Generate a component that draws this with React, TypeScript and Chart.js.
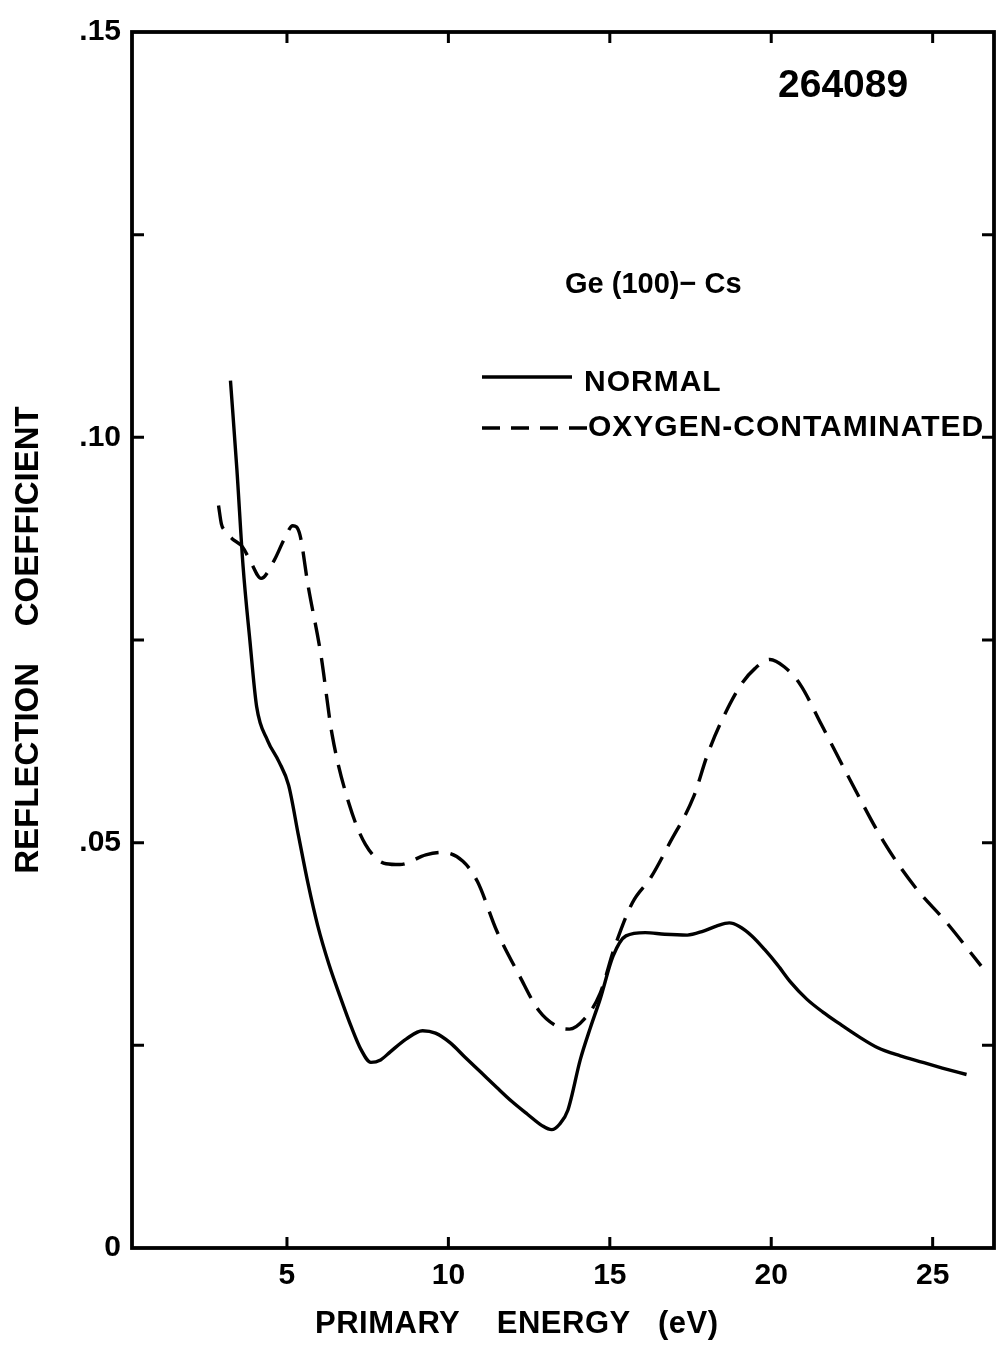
import React, { useEffect, useRef } from "react";
import { Chart, registerables } from "chart.js";

Chart.register(...registerables);

// ---- data ----
const normalX = [3.25, 3.45, 3.64, 3.85, 4.06, 4.4, 4.75, 5.05, 5.36, 5.65, 5.95, 6.3, 6.63, 7.0, 7.29, 7.6, 7.9, 8.2, 8.7, 9.2, 9.6, 10.06, 10.5, 11.0, 11.5, 11.96, 12.45, 12.9, 13.2, 13.45, 13.7, 14.09, 14.4, 14.7, 15.1, 15.5, 16.1, 16.7, 17.4, 17.9, 18.3, 18.7, 19.0, 19.4, 19.8, 20.2, 20.6, 21.1, 21.6, 22.1, 22.7, 23.3, 24.0, 24.6, 25.3, 26.05];
const normalY = [0.107, 0.096, 0.0841, 0.075, 0.0668, 0.0626, 0.06, 0.0571, 0.0508, 0.045, 0.0398, 0.035, 0.0312, 0.0272, 0.0245, 0.0229, 0.0232, 0.0242, 0.0258, 0.0268, 0.0265, 0.0253, 0.0236, 0.0217, 0.0198, 0.0181, 0.0165, 0.0151, 0.0146, 0.0153, 0.017, 0.0233, 0.0272, 0.0307, 0.036, 0.0385, 0.0389, 0.0387, 0.0386, 0.0391, 0.0397, 0.0401, 0.0397, 0.0385, 0.0368, 0.0349, 0.0328, 0.0307, 0.0291, 0.0277, 0.0261, 0.0247, 0.0237, 0.023, 0.0222, 0.0214];

const oxygenX = [2.88, 2.97, 3.07, 3.3, 3.62, 3.87, 4.2, 4.6, 4.9, 5.18, 5.4, 5.65, 6.05, 6.4, 6.93, 7.43, 8.07, 8.5, 9.3, 9.8, 10.45, 10.9, 11.5, 12.2, 12.8, 13.44, 13.75, 14.2, 14.7, 15.14, 15.7, 16.27, 16.86, 17.6, 18.02, 18.46, 19.05, 19.5, 19.96, 20.4, 20.9, 21.55, 22.5, 23.5, 24.46, 25.4, 26.5];
const oxygenY = [0.0916, 0.0893, 0.0885, 0.0875, 0.0865, 0.0847, 0.0826, 0.0848, 0.0873, 0.0891, 0.088, 0.0818, 0.0732, 0.0633, 0.0547, 0.0498, 0.0474, 0.0473, 0.0485, 0.0488, 0.0477, 0.0452, 0.0391, 0.0336, 0.0293, 0.0272, 0.027, 0.0282, 0.0314, 0.037, 0.0426, 0.0457, 0.05, 0.0557, 0.0608, 0.065, 0.0694, 0.0715, 0.0726, 0.0717, 0.0695, 0.0646, 0.0573, 0.05, 0.0445, 0.0403, 0.0348];

const xTickValues = [5, 10, 15, 20, 25];
const yTickValues = [0, 0.05, 0.1, 0.15];
const yTickLabels = ["0", ".05", ".10", ".15"];
const yMinorTicks = [0.025, 0.05, 0.075, 0.1, 0.125];

const seriesNames = ["NORMAL", "OXYGEN-CONTAMINATED"];
const figureId = "264089";
const sampleLabel = "Ge (100)\u2212 Cs";
const xTitle = "PRIMARY    ENERGY   (eV)";
const yTitle = "REFLECTION    COEFFICIENT";

const FONT = "'Liberation Sans', Arial, sans-serif";
const DASH = [24, 12];

const framePlugin = {
  id: "frameTicks",
  afterDatasetsDraw(chart: any) {
    const { ctx, chartArea } = chart;
    const xs = chart.scales.x;
    const ys = chart.scales.y;
    ctx.save();
    ctx.strokeStyle = "#000";
    ctx.lineWidth = 3.8;
    ctx.lineCap = "butt";
    ctx.strokeRect(chartArea.left, chartArea.top, chartArea.right - chartArea.left, chartArea.bottom - chartArea.top);
    ctx.lineWidth = 3;
    ctx.beginPath();
    for (const v of xTickValues) {
      const px = xs.getPixelForValue(v);
      ctx.moveTo(px, chartArea.bottom);
      ctx.lineTo(px, chartArea.bottom - 11);
      ctx.moveTo(px, chartArea.top);
      ctx.lineTo(px, chartArea.top + 11);
    }
    for (const v of yMinorTicks) {
      const py = ys.getPixelForValue(v);
      ctx.moveTo(chartArea.left, py);
      ctx.lineTo(chartArea.left + 12, py);
      ctx.moveTo(chartArea.right, py);
      ctx.lineTo(chartArea.right - 12, py);
    }
    ctx.stroke();
    ctx.restore();
  },
};

const annotationPlugin = {
  id: "annotations",
  afterDraw(chart: any) {
    const { ctx } = chart;
    ctx.save();
    ctx.fillStyle = "#000";
    ctx.strokeStyle = "#000";
    ctx.textBaseline = "middle";
    ctx.textAlign = "left";

    ctx.font = `bold 39px ${FONT}`;
    ctx.fillText(figureId, 778, 86);

    ctx.font = `bold 29px ${FONT}`;
    ctx.fillText(sampleLabel, 565, 285);

    // legend
    ctx.lineWidth = 3.4;
    ctx.setLineDash([]);
    ctx.beginPath();
    ctx.moveTo(482, 377);
    ctx.lineTo(572, 377);
    ctx.stroke();
    ctx.setLineDash([18, 11]);
    ctx.beginPath();
    ctx.moveTo(482, 428);
    ctx.lineTo(588, 428);
    ctx.stroke();
    ctx.setLineDash([]);

    ctx.font = `bold 30px ${FONT}`;
    (ctx as any).letterSpacing = "1px";
    ctx.fillText(seriesNames[0], 584, 383);
    ctx.fillText(seriesNames[1], 588, 428);

    // x-axis title
    (ctx as any).letterSpacing = "0.5px";
    ctx.font = `bold 31px ${FONT}`;
    ctx.fillText(xTitle, 315, 1324);
    (ctx as any).letterSpacing = "0px";
    ctx.restore();
  },
};

export default function App() {
  const ref = useRef<HTMLCanvasElement | null>(null);

  useEffect(() => {
    if (!ref.current) return;
    const chart = new Chart(ref.current, {
      type: "scatter",
      data: {
        datasets: [
          {
            label: seriesNames[0],
            data: normalX.map((x, i) => ({ x, y: normalY[i] })),
            showLine: true,
            borderColor: "#000",
            borderWidth: 3.4,
            pointRadius: 0,
            cubicInterpolationMode: "monotone",
            fill: false,
          },
          {
            label: seriesNames[1],
            data: oxygenX.map((x, i) => ({ x, y: oxygenY[i] })),
            showLine: true,
            borderColor: "#000",
            borderWidth: 3.4,
            borderDash: DASH,
            pointRadius: 0,
            cubicInterpolationMode: "monotone",
            fill: false,
          },
        ],
      },
      options: {
        responsive: false,
        devicePixelRatio: 1,
        animation: false,
        events: [],
        layout: { padding: { top: 32, right: 12, left: 0, bottom: 0 } },
        plugins: {
          legend: { display: false },
          tooltip: { enabled: false },
        },
        scales: {
          x: {
            type: "linear",
            min: 0.2,
            max: 26.9,
            grid: { display: false, drawTicks: false },
            border: { display: false },
            afterBuildTicks: (scale: any) => {
              scale.ticks = xTickValues.map((v) => ({ value: v }));
            },
            afterFit: (scale: any) => {
              scale.height = 99;
            },
            ticks: {
              color: "#000",
              padding: 10,
              maxRotation: 0,
              autoSkip: false,
              font: { family: FONT, size: 30, weight: "bold" },
              callback: (v: any) => String(v),
            },
          },
          y: {
            type: "linear",
            min: 0,
            max: 0.15,
            grid: { display: false, drawTicks: false },
            border: { display: false },
            afterBuildTicks: (scale: any) => {
              scale.ticks = yTickValues.map((v) => ({ value: v }));
            },
            afterFit: (scale: any) => {
              scale.width = 132;
            },
            ticks: {
              color: "#000",
              padding: 11,
              autoSkip: false,
              font: { family: FONT, size: 30, weight: "bold" },
              callback: (v: any) => {
                const i = yTickValues.findIndex((t) => Math.abs(t - Number(v)) < 1e-9);
                return i >= 0 ? yTickLabels[i] : "";
              },
            },
            title: {
              display: true,
              text: yTitle,
              color: "#000",
              padding: { top: 9, bottom: 0 },
              font: { family: FONT, size: 33, weight: "bold" },
            },
          },
        },
      },
      plugins: [framePlugin, annotationPlugin],
    } as any);
    return () => chart.destroy();
  }, []);

  return (
    <div style={{ position: "absolute", left: 0, top: 0, width: 1006, height: 1347, background: "#fff" }}>
      <canvas ref={ref} width={1006} height={1347} style={{ display: "block", width: 1006, height: 1347 }} />
    </div>
  );
}
